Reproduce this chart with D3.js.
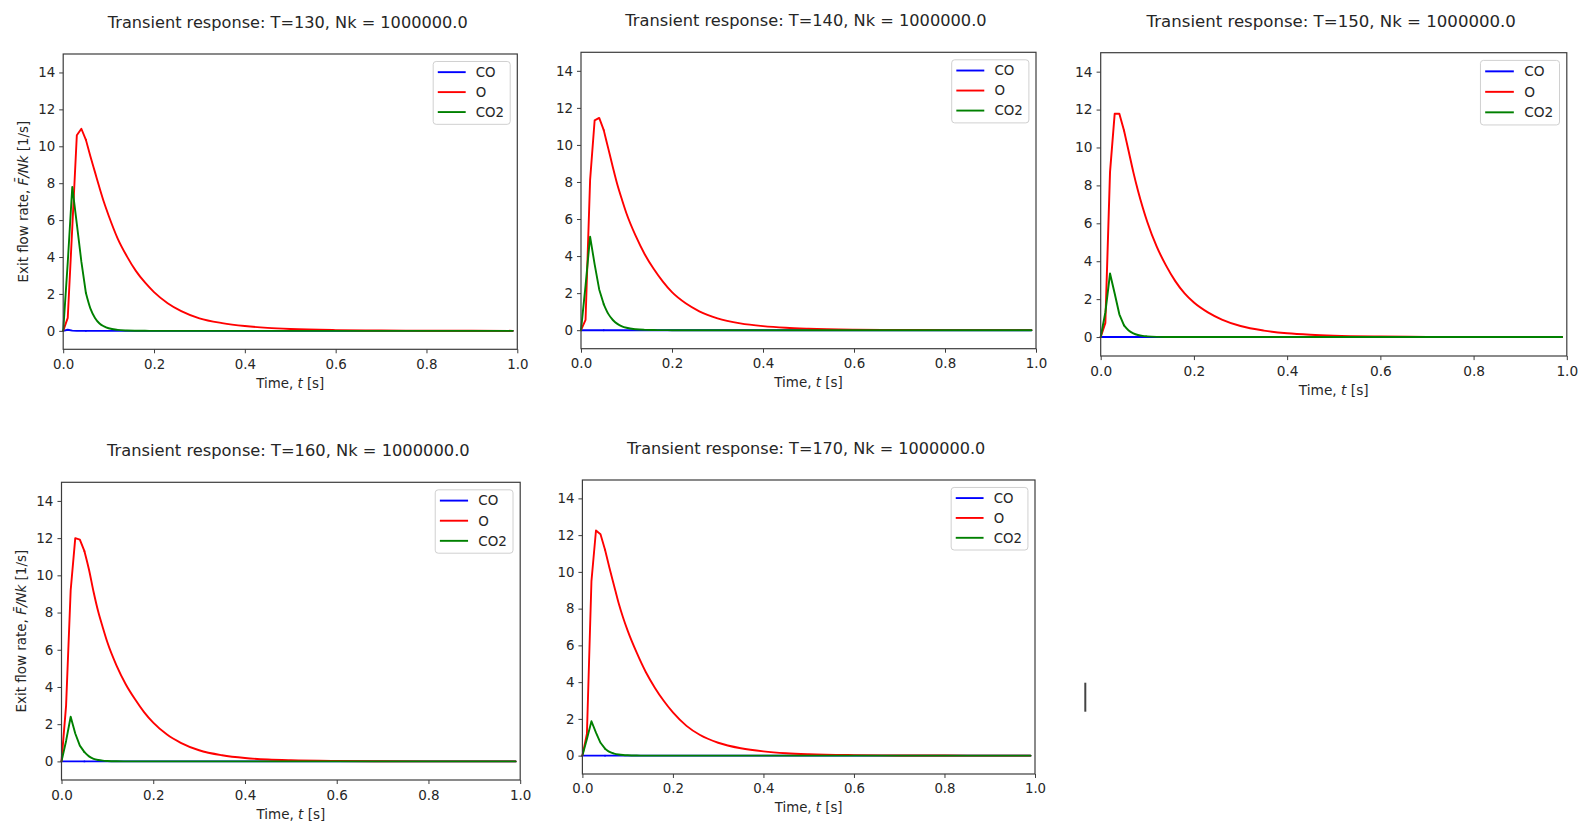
<!DOCTYPE html>
<html><head><meta charset="utf-8">
<script src="https://cdn.jsdelivr.net/npm/d3@7"></script>
<style>html,body{margin:0;padding:0;background:#fff;} svg{display:block;}</style>
</head><body>
<svg id="c" width="1583" height="824"></svg>
<script>
// ---------- data ----------
const times = [0,0.01,0.02,0.03,0.04,0.05,0.06,0.07,0.08,0.09,0.10,0.12,0.14,0.16,0.18,0.20,0.23,0.26,0.30,0.35,0.40,0.45,0.50,0.60,0.70,0.80,0.90,0.99];
const temps = [130,140,150,160,170];
const seriesNames = ["CO","O","CO2"];
const xTicks = [0,0.2,0.4,0.6,0.8,1.0];
const yTicks = [0,2,4,6,8,10,12,14];

const coT130  = [0,0.06,0.01,0,0,0,0,0,0,0,0,0,0,0,0,0,0,0,0,0,0,0,0,0,0,0,0,0];
const oT130   = [0,0.7,5.6,10.6,10.95,10.35,9.45,8.6,7.75,6.95,6.25,5.0,4.05,3.25,2.62,2.1,1.5,1.07,0.68,0.42,0.26,0.16,0.1,0.04,0.016,0.006,0.0025,0.001];
const co2T130 = [0,3.7,7.8,5.8,3.75,2.05,1.2,0.7,0.4,0.24,0.14,0.05,0.018,0.006,0.002,0,0,0,0,0,0,0,0,0,0,0,0,0];

const coT140  = [0,0,0,0,0,0,0,0,0,0,0,0,0,0,0,0,0,0,0,0,0,0,0,0,0,0,0,0];
const oT140   = [0,0.56,8.1,11.33,11.46,10.8,9.8,8.8,7.85,7.05,6.3,5.1,4.1,3.3,2.62,2.05,1.45,1.02,0.64,0.37,0.22,0.13,0.08,0.03,0.012,0.005,0.002,0.001];
const co2T140 = [0,2.4,5.05,3.55,2.2,1.4,0.88,0.55,0.34,0.21,0.13,0.05,0.018,0.006,0.002,0,0,0,0,0,0,0,0,0,0,0,0,0];

const coT150  = [0,0,0,0,0,0,0,0,0,0,0,0,0,0,0,0,0,0,0,0,0,0,0,0,0,0,0,0];
const oT150   = [0,0.75,8.7,11.78,11.78,10.9,9.8,8.7,7.72,6.85,6.07,4.78,3.78,2.95,2.3,1.82,1.3,0.92,0.58,0.34,0.2,0.12,0.07,0.026,0.01,0.004,0.0015,0.0006];
const co2T150 = [0,1.3,3.35,2.3,1.2,0.62,0.35,0.2,0.11,0.06,0.035,0.01,0.003,0.001,0,0,0,0,0,0,0,0,0,0,0,0,0,0];

const coT160  = [0,0,0,0,0,0,0,0,0,0,0,0,0,0,0,0,0,0,0,0,0,0,0,0,0,0,0,0];
const oT160   = [0,3.0,9.2,12.0,11.92,11.3,10.3,9.1,8.05,7.2,6.4,5.15,4.15,3.35,2.65,2.08,1.44,1.0,0.6,0.33,0.18,0.1,0.058,0.02,0.007,0.003,0.001,0.0005];
const co2T160 = [0,1.1,2.4,1.5,0.85,0.5,0.27,0.14,0.075,0.04,0.022,0.006,0.002,0.0005,0,0,0,0,0,0,0,0,0,0,0,0,0,0];

const coT170  = [0,0,0,0,0,0,0,0,0,0,0,0,0,0,0,0,0,0,0,0,0,0,0,0,0,0,0,0];
const oT170   = [0,1.2,9.5,12.25,12.05,11.2,10.2,9.25,8.3,7.5,6.8,5.6,4.55,3.7,2.97,2.35,1.62,1.12,0.7,0.4,0.23,0.13,0.075,0.027,0.01,0.004,0.0015,0.0006];
const co2T170 = [0,0.9,1.87,1.25,0.7,0.38,0.2,0.11,0.06,0.033,0.018,0.005,0.0015,0,0,0,0,0,0,0,0,0,0,0,0,0,0,0];

const panelSeries = [
  [coT130, oT130, co2T130],
  [coT140, oT140, co2T140],
  [coT150, oT150, co2T150],
  [coT160, oT160, co2T160],
  [coT170, oT170, co2T170]
];

// ---------- layout / style ----------
const colors = ["#0000ff", "#ff0000", "#008000"];
const layouts = [
  {l:63.2,  t:54,    r:517.3,  b:349.3, ylab:true},
  {l:581,   t:52.3,  r:1036,   b:348.7, ylab:false},
  {l:1100.7,t:52.7,  r:1566.8, b:356,   ylab:false},
  {l:61.5,  t:482.3, r:520.2,  b:780,   ylab:true},
  {l:582.4, t:480,   r:1035,   b:774,   ylab:false}
];
const textColor = "#262626";
const frameColor = "#3c3c3c";
const FONT = "DejaVu Sans, sans-serif";
const SPLIT = 5; // straight segments for the sampled rise, smooth tail after

const svg = d3.select("#c");

layouts.forEach((L, pi) => {
  const sx = (L.r - L.l) / 454;
  const sy = (L.b - L.t) / 296;
  const fs = 13.4 * sy;
  const x = d3.scaleLinear().domain([0, 1]).range([L.l, L.r]);
  const y = d3.scaleLinear().domain([-1, 15]).range([L.b, L.t]);
  const g = svg.append("g");

  // axes ticks
  const xa = g.append("g").attr("transform", `translate(0,${L.b})`)
    .call(d3.axisBottom(x).tickValues(xTicks).tickFormat(d3.format(".1f")).tickSize(4 * sy).tickPadding(6 * sy));
  const ya = g.append("g").attr("transform", `translate(${L.l},0)`)
    .call(d3.axisLeft(y).tickValues(yTicks).tickFormat(d3.format("d")).tickSize(4 * sx).tickPadding(4 * sx));
  [xa, ya].forEach(a => {
    a.select(".domain").remove();
    a.selectAll("line").attr("stroke", frameColor).attr("stroke-width", 1);
    a.selectAll("text").attr("fill", textColor).style("font-family", FONT).style("font-size", fs + "px");
  });

  // lines
  const series = panelSeries[pi];
  const pts = times.map((t, i) => i);
  series.forEach((vals, si) => {
    const head = d3.line().x(i => x(times[i])).y(i => y(vals[i]));
    const tail = d3.line().curve(d3.curveMonotoneX).x(i => x(times[i])).y(i => y(vals[i]));
    [[head, pts.slice(0, SPLIT + 1)], [tail, pts.slice(SPLIT)]].forEach(([gen, idx]) => {
      g.append("path").datum(idx).attr("d", gen)
        .attr("fill", "none").attr("stroke", colors[si]).attr("stroke-width", 1.9 * sy)
        .attr("stroke-linejoin", "round").attr("stroke-linecap", "round");
    });
  });

  // frame
  g.append("rect").attr("x", L.l).attr("y", L.t).attr("width", L.r - L.l).attr("height", L.b - L.t)
    .attr("fill", "none").attr("stroke", frameColor).attr("stroke-width", 1.2);

  // title
  g.append("text").attr("x", (L.l + L.r) / 2 - 2.5).attr("y", L.t - 26)
    .attr("text-anchor", "middle").attr("fill", textColor)
    .style("font-family", FONT).style("font-size", (16.2 * sy) + "px")
    .text(`Transient response: T=${temps[pi]}, Nk = 1000000.0`);

  // x label
  const xl = g.append("text").attr("x", (L.l + L.r) / 2).attr("y", L.b + 38.5 * sy)
    .attr("text-anchor", "middle").attr("fill", textColor)
    .style("font-family", FONT).style("font-size", fs + "px");
  xl.append("tspan").text("Time, ");
  xl.append("tspan").style("font-style", "italic").text("t");
  xl.append("tspan").text(" [s]");

  // y label
  if (L.ylab) {
    const cy = (L.t + L.b) / 2;
    const cx = L.l - 35.5;
    const yl = g.append("text").attr("transform", `translate(${cx},${cy}) rotate(-90)`)
      .attr("text-anchor", "middle").attr("fill", textColor)
      .style("font-family", FONT).style("font-size", fs + "px");
    yl.append("tspan").text("Exit flow rate, ");
    yl.append("tspan").style("font-style", "italic").text("F\u0304/Nk");
    yl.append("tspan").text(" [1/s]");
  }

  // legend
  const lw = 77 * sx, lh = 63 * sy;
  const lx = L.r - 7.1 * sx - lw, ly = L.t + 7.5 * sy;
  const lg = g.append("g");
  lg.append("rect").attr("x", lx).attr("y", ly).attr("width", lw).attr("height", lh)
    .attr("rx", 3).attr("fill", "#fff").attr("fill-opacity", 0.8)
    .attr("stroke", "#d0d0d0").attr("stroke-width", 1);
  seriesNames.forEach((name, si) => {
    const ry = ly + (10.7 + 20 * si) * sy;
    lg.append("line").attr("x1", lx + 4.6 * sx).attr("x2", lx + 32.5 * sx).attr("y1", ry).attr("y2", ry)
      .attr("stroke", colors[si]).attr("stroke-width", 1.9 * sy);
    lg.append("text").attr("x", lx + 42.6 * sx).attr("y", ry + 4.8 * sy).attr("fill", textColor)
      .style("font-family", FONT).style("font-size", fs + "px").text(name);
  });
});

// stray text-cursor mark visible in the reference
svg.append("line").attr("x1", 1085.3).attr("x2", 1085.3).attr("y1", 682.7).attr("y2", 711.7)
  .attr("stroke", "#444").attr("stroke-width", 2);
</script>
</body></html>
